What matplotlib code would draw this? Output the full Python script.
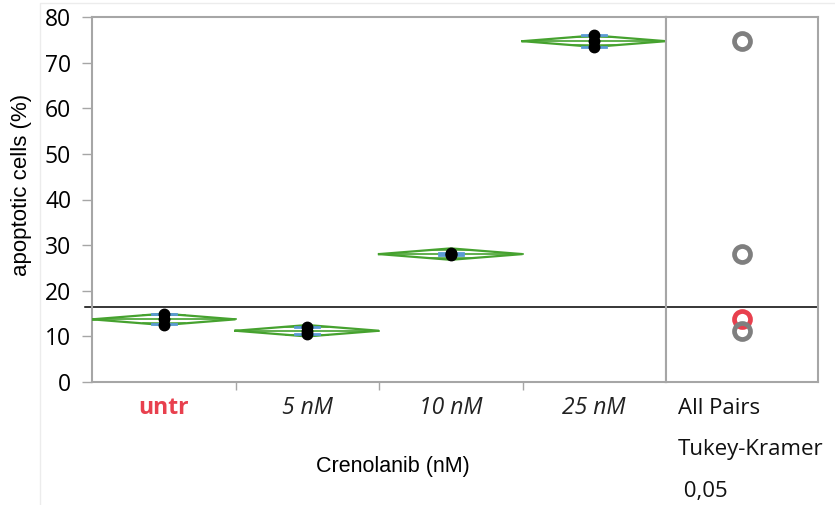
import numpy as np
import matplotlib
matplotlib.use("Agg")
import matplotlib.pyplot as plt
from matplotlib.patches import Rectangle

# Apoptosis after crenolanib treatment (three replicates per group)
groups = ["untr", "5 nM", "10 nM", "25 nM"]
untr = [14.8, 13.8, 12.6]
nm5 = [12.0, 11.2, 10.5]
nm10 = [28.3, 27.8, 28.0]
nm25 = [76.0, 74.7, 73.4]
ref_level = 16.5
yticks = [0, 10, 20, 30, 40, 50, 60, 70, 80]
panel_lines = ["All Pairs", "Tukey-Kramer", " 0,05"]

data = [untr, nm5, nm10, nm25]
means = np.array([np.mean(d) for d in data])
sds = np.array([np.std(d, ddof=1) for d in data])
n = np.array([len(d) for d in data])
dfe = int(n.sum() - len(data))
pooled_sd = np.sqrt(np.sum((n - 1) * sds ** 2) / dfe)
t_crit = 2.306  # t(0.975, df=8)
ci = t_crit * pooled_sd / np.sqrt(n)

green = "#46a22f"
blue = "#5b9bd5"
grey_frame = "#a6a6a6"
red = "#e8404e"
ring_grey = "#7f7f7f"

fig = plt.figure(figsize=(8.35, 5.05), dpi=100)
fig.patch.set_facecolor("white")

# faint outer frame
fig.add_artist(Rectangle((40 / 835, -0.01), 1.0, 1 - 3 / 505 + 0.01, transform=fig.transFigure,
                         fill=False, edgecolor="#ececec", linewidth=1.0))

L, R, B, T = 92 / 835, 666 / 835, 1 - 382 / 505, 1 - 17 / 505
ax = fig.add_axes([L, B, R - L, T - B])
ax2 = fig.add_axes([R, B, 818 / 835 - R, T - B], sharey=ax)

ax.set_xlim(-0.5, len(groups) - 0.5)
ax.set_ylim(0, 80)

for i, (d, m, c, s) in enumerate(zip(data, means, ci, sds)):
    x0, x1 = i - 0.5, i + 0.5
    # means diamond
    ax.plot([x0, i, x1, i, x0], [m, m + c, m, m - c, m], color=green, lw=1.6, zorder=3,
            solid_joinstyle="miter")
    ax.plot([x0, x1], [m, m], color=green, lw=1.2, zorder=3)
    # overlap marks
    ov = c / np.sqrt(2)
    frac = 1 - ov / c
    for yy in (m + ov, m - ov):
        ax.plot([i - 0.5 * frac, i + 0.5 * frac], [yy, yy], color=green, lw=1.1, zorder=3)
    # std dev bars
    ax.plot([i, i], [m - s, m + s], color=blue, lw=2.0, zorder=4)
    for yy in (m - s, m + s):
        ax.plot([i - 0.085, i + 0.085], [yy, yy], color=blue, lw=2.0, zorder=4)
    # replicate points
    ax.plot([i] * len(d), d, "o", color="black", ms=7.5, zorder=5)

for a in (ax, ax2):
    a.axhline(ref_level, color="black", lw=1.1, zorder=2)
ax.plot([-0.55, -0.5], [ref_level, ref_level], color="black", lw=1.1, clip_on=False)

for sp in list(ax.spines.values()) + list(ax2.spines.values()):
    sp.set_color(grey_frame)
    sp.set_linewidth(1.5)

ax.set_yticks(yticks)
ax.set_yticklabels([str(v) for v in yticks], fontsize=16.5, family="Open Sans")
ax.tick_params(axis="y", direction="out", length=7, width=1, color=grey_frame, pad=8)

ax.set_xticks(np.arange(len(groups)))
ax.set_xticklabels([])
ax.tick_params(axis="x", length=0)
ax.set_xticks(np.arange(len(groups) - 1) + 0.5, minor=True)
ax.tick_params(axis="x", which="minor", direction="out", length=6, width=1, color=grey_frame)

for i, g in enumerate(groups):
    if g == "untr":
        ax.text(i, -5.6, g, ha="center", va="center", fontsize=16.5, fontweight="bold",
                color=red, family="Open Sans")
    else:
        ax.text(i, -5.6, g, ha="center", va="center", fontsize=16.5, style="italic",
                color="#222222", family="Open Sans")

ax.text(1.6, -18.5, "Crenolanib (nM)", ha="center", va="center", fontsize=15.5,
        family="Liberation Sans")
ax.set_ylabel("apoptotic cells (%)", fontsize=16, family="Liberation Sans")
ax.yaxis.set_label_coords(-0.104, 0.54)

# comparison circles panel
ax2.set_xlim(0, 1)
ax2.set_xticks([])
ax2.tick_params(axis="y", left=False, labelleft=False)
for i in range(len(groups)):
    col = red if groups[i] == "untr" else ring_grey
    z = 3 if groups[i] == "untr" else 4
    ax2.plot([0.5], [means[i]], "o", ms=11.5, mfc="none", mec=col, mew=3.4, zorder=z)

for k, txt in enumerate(panel_lines):
    fig.text(678 / 835, 1 - (409 + 41 * k) / 505, txt, ha="left", va="center",
             fontsize=16, family="Open Sans", color="#111111")

fig.savefig("out.png", dpi=100, facecolor="white")
